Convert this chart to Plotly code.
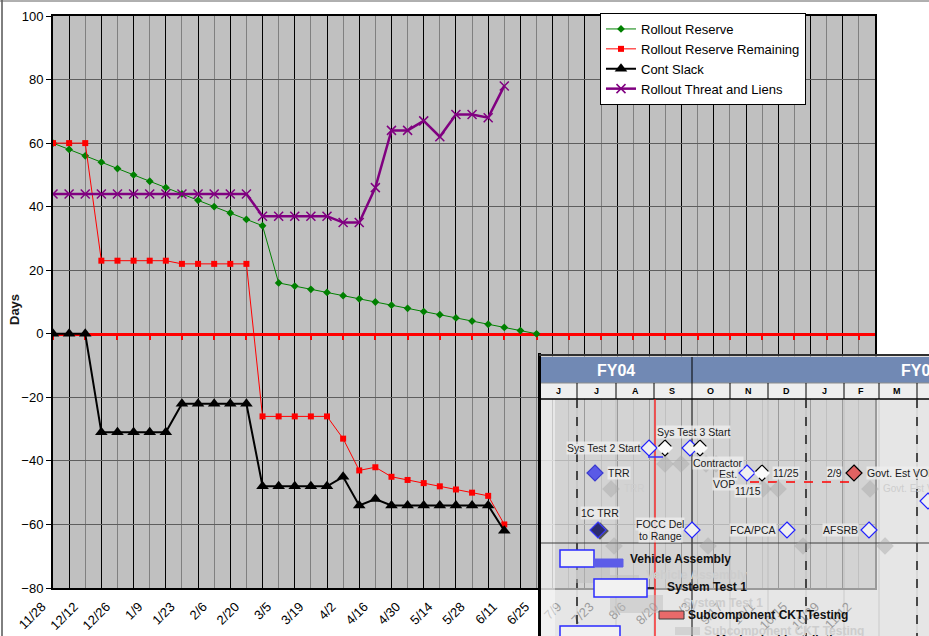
import plotly.graph_objects as go

# ---------------- data ----------------
week_labels = ["11/28", "12/5", "12/12", "12/19", "12/26", "1/2", "1/9", "1/16", "1/23", "1/30",
               "2/6", "2/13", "2/20", "2/27", "3/5", "3/12", "3/19", "3/26", "4/2", "4/9",
               "4/16", "4/23", "4/30", "5/7", "5/14", "5/21", "5/28", "6/4", "6/11", "6/18",
               "6/25", "7/2", "7/9", "7/16", "7/23", "7/30", "8/6", "8/13", "8/20", "8/27",
               "9/3", "9/10", "9/17", "9/24", "10/1", "10/8", "10/15", "10/22", "10/29", "11/5",
               "11/12", "11/19"]

rollout_reserve = [60, 58, 56, 54, 52, 50, 48, 46, 44, 42, 40, 38, 36, 34, 16, 15, 14, 13, 12, 11,
                   10, 9, 8, 7, 6, 5, 4, 3, 2, 1, 0]
reserve_remaining = [60, 60, 60, 23, 23, 23, 23, 23, 22, 22, 22, 22, 22, -26, -26, -26, -26, -26,
                     -33, -43, -42, -45, -46, -47, -48, -49, -50, -51, -60]
cont_slack = [0, 0, 0, -31, -31, -31, -31, -31, -22, -22, -22, -22, -22, -48, -48, -48, -48, -48,
              -45, -54, -52, -54, -54, -54, -54, -54, -54, -54, -62]
threat_liens = [44, 44, 44, 44, 44, 44, 44, 44, 44, 44, 44, 44, 44, 37, 37, 37, 37, 37,
                35, 35, 46, 64, 64, 67, 62, 69, 69, 68, 78]

# ---------------- figure geometry ----------------
W, H = 929, 636
PL, PR, PT, PB = 53, 875, 16, 588
FONT = "Arial, Liberation Sans, sans-serif"


def PX(px):
    return (px - PL) / (PR - PL)


def PY(py):
    return (PB - py) / (PB - PT)


n_weeks = len(week_labels)
fig = go.Figure()

fig.add_trace(go.Scatter(
    x=list(range(len(rollout_reserve))), y=rollout_reserve, name="Rollout Reserve",
    mode="lines+markers", line=dict(color="#008000", width=1),
    marker=dict(symbol="diamond", size=6, color="#008000")))
fig.add_trace(go.Scatter(
    x=list(range(len(reserve_remaining))), y=reserve_remaining, name="Rollout Reserve Remaining",
    mode="lines+markers", line=dict(color="#FF0000", width=1),
    marker=dict(symbol="square", size=6, color="#FF0000")))
fig.add_trace(go.Scatter(
    x=list(range(len(cont_slack))), y=cont_slack, name="Cont Slack",
    mode="lines+markers", line=dict(color="#000000", width=2),
    marker=dict(symbol="triangle-up", size=11, color="#000000")))
fig.add_trace(go.Scatter(
    x=list(range(len(threat_liens))), y=threat_liens, name="Rollout Threat and Liens",
    mode="lines+markers", line=dict(color="#800080", width=2.5),
    marker=dict(symbol="x-thin", size=9, color="#800080", line=dict(width=1.5, color="#800080"))))
# carrier for the red category axis drawn at y = 0
fig.add_trace(go.Scatter(x=[None], y=[None], xaxis="x2", yaxis="y", showlegend=False,
                         hoverinfo="skip"))

major = list(range(0, n_weeks, 2))
minor = list(range(1, n_weeks, 2))

fig.update_layout(
    width=W, height=H,
    margin=dict(l=PL, r=W - PR, t=PT, b=H - PB, autoexpand=False),
    paper_bgcolor="white", plot_bgcolor="#C0C0C0",
    font=dict(family=FONT, size=13, color="black"),
    xaxis=dict(range=[0, n_weeks - 1], tickmode="array", tickvals=major,
               ticktext=[week_labels[i] for i in major], tickangle=-45, ticks="",
               ticklabelshift=-11, ticklabelstandoff=4,
               showgrid=True, gridcolor="#808080", gridwidth=1,
               minor=dict(tickvals=minor, showgrid=True, gridcolor="#000000", gridwidth=1, ticks=""),
               showline=True, linecolor="black", linewidth=2, mirror=True, zeroline=False,
               tickfont=dict(size=13, family=FONT), automargin=False),
    xaxis2=dict(overlaying="x", anchor="free", position=80 / 180, range=[0, n_weeks - 1],
                tickmode="array", tickvals=major, ticks="outside", ticklen=4, tickwidth=1.5,
                tickcolor="#FF0000", showline=True, linecolor="#FF0000", linewidth=2.5,
                showticklabels=False, showgrid=False, zeroline=False, layer="below traces",
                side="bottom"),
    yaxis=dict(range=[-80, 100], tickmode="linear", tick0=-80, dtick=20, ticks="outside",
               ticklen=5, tickcolor="black", showgrid=True, gridcolor="#5E5E5E", gridwidth=1,
               showline=True, linecolor="black", linewidth=2, mirror=True, zeroline=False,
               tickfont=dict(size=13, family=FONT), automargin=False),
    legend=dict(x=PX(600), y=PY(13), xanchor="left", yanchor="top", bgcolor="white",
                bordercolor="black", borderwidth=1, font=dict(size=13, family=FONT),
                tracegroupgap=0, entrywidth=185, entrywidthmode="pixels"),
    showlegend=True,
)

shapes = []
annotations = []


def line(x0, y0, x1, y1, color, width=1, dash="solid"):
    shapes.append(dict(type="line", xref="paper", yref="paper", x0=PX(x0), y0=PY(y0),
                       x1=PX(x1), y1=PY(y1), line=dict(color=color, width=width, dash=dash),
                       layer="above"))


def rect(x0, y0, x1, y1, fill, lcolor=None, lwidth=0, opacity=1.0):
    shapes.append(dict(type="rect", xref="paper", yref="paper", x0=PX(x0), y0=PY(y0),
                       x1=PX(x1), y1=PY(y1), fillcolor=fill, opacity=opacity,
                       line=dict(color=lcolor or fill, width=lwidth), layer="above"))


def diamond(cx, cy, fill, lcolor, h=8, dash="solid", opacity=1.0, lwidth=1.2):
    path = (f"M {PX(cx)},{PY(cy - h)} L {PX(cx + h)},{PY(cy)} "
            f"L {PX(cx)},{PY(cy + h)} L {PX(cx - h)},{PY(cy)} Z")
    shapes.append(dict(type="path", xref="paper", yref="paper", path=path, fillcolor=fill,
                       opacity=opacity, line=dict(color=lcolor, width=lwidth, dash=dash),
                       layer="above"))


def text(x, y, s, size=11, color="#1A1A1A", anchor="left", bold=False, bg=None, angle=0):
    annotations.append(dict(xref="paper", yref="paper", x=PX(x), y=PY(y),
                            text=f"<b>{s}</b>" if bold else s, showarrow=False,
                            xanchor=anchor, yanchor="middle", textangle=angle,
                            font=dict(size=size, color=color, family=FONT),
                            bgcolor=bg, borderpad=0))


# chart frame
line(2, 0, 2, H, "#000000", 1)
line(0, 1, W, 1, "#606060", 1)
text(14, 310, "Days", size=13, bold=True, anchor="center", angle=-90)

# ---------------- embedded schedule picture (bottom right) ----------------
rect(540, 355, 940, 645, "rgb(219,219,219)", opacity=0.7)
rect(541, 399, 555, 645, "white", opacity=0.45)
rect(541, 357, 940, 383, "#7189B4")
rect(541, 383, 940, 399, "#EEEEEE")
line(541, 383, 940, 383, "#8C8C8C", 1)
line(541, 399, 940, 399, "#000000", 1.5)

months = ["J", "J", "A", "S", "O", "N", "D", "J", "F", "M"]
month_x = [558, 596, 635, 672, 710, 748, 786, 824, 861, 897]
month_sep = [577, 616, 654, 730, 768, 806, 844, 879, 917]
for xs in month_sep:
    line(xs, 383, xs, 399, "#000000", 1)
    line(xs, 399, xs, 645, "rgba(150,150,150,0.35)", 1)
for m, xm in zip(months, month_x):
    text(xm, 391, m, size=9, bold=True, anchor="center", color="#000000")

line(539.5, 353, 539.5, 645, "#000000", 3)
line(539, 355, 940, 355, "#303030", 2)
line(692, 357, 692, 645, "#000000", 1)
for xd in [577, 806, 917]:
    line(xd, 399, xd, 645, "#1A1A1A", 1.5, dash="dash")
line(541, 543, 940, 543, "#3C3C3C", 1)
line(655, 399, 655, 645, "#FF0000", 1.2)
line(750, 482, 850, 482, "#FF0000", 1.5, dash="dash")

# milestones: (x, y, style)
milestones = [
    (649, 448, "open"), (665, 448, "done"), (690, 448, "open"), (700, 448, "done"),
    (747, 473, "open"), (762, 473, "done"), (854, 473, "red"), (595, 473, "blue"),
    (598, 530, "navy"), (692, 530, "open"), (787, 530, "open"), (869, 530, "open"),
    (928, 501, "open"),
]
bars = [
    (560, 550, 594, 567, "open"), (594, 559, 623, 567, "blue"), (594, 579, 647, 597, "open"),
    (659, 611, 684, 619, "red"), (560, 626, 620, 645, "open"),
]
bar_labels = [
    (629, 559, "Vehicle Assembly"), (666, 587, "System Test 1"),
    (687, 615, "Subcomponent CKT Testing"), (715, 640, "Mechanical Installations"),
]
OFF = 16

# shadow copy
for (x0, y0, x1, y1, st) in bars:
    if x0 + OFF < 935:
        rect(x0 + OFF, y0 + OFF, x1 + OFF, y1 + OFF, "#BDBDBD", opacity=0.5)
for (cx, cy, st) in milestones:
    if cx + OFF < 935:
        diamond(cx + OFF, cy + OFF, "#A8A8A8", "#A8A8A8", opacity=0.45)

# main picture marks
line(648, 457, 663, 457, "#3030FF", 1.5)
line(627, 588, 657, 588, "#000000", 1.5, dash="dash")
for (x0, y0, x1, y1, st) in bars:
    if st == "open":
        rect(x0, y0, x1, y1, "#F2F2F2", "#2A2AFF", 1.5)
    elif st == "blue":
        rect(x0, y0, x1, y1, "#5C5CE8", "#5C5CE8", 1)
    else:
        rect(x0, y0, x1, y1, "#E86A6A", "#3A3A3A", 1)
for (cx, cy, st) in milestones:
    if st == "open":
        diamond(cx, cy, "#F0F0F0", "#2020FF")
    elif st == "done":
        diamond(cx, cy, "#FAFAFA", "#000000", dash="dash")
    elif st == "red":
        diamond(cx, cy, "#E06262", "#000000")
    elif st == "blue":
        diamond(cx, cy, "#5A5AE6", "#3A3AD0")
    else:
        diamond(cx + 2, cy + 1, "#555555", "#555555")
        diamond(cx, cy, "#2C2C6E", "#3A3AFF")

# shadow labels
for (x, y, s) in bar_labels:
    text(x + OFF, y + OFF, s, size=12, bold=True, color="#CDCDCD")
text(866 + OFF, 473 + OFF, "Govt. Est VOP", size=10, color="#CDCDCD")
text(607 + OFF, 473 + OFF, "TRR", size=10, color="#CDCDCD")

for (x, y, s) in bar_labels:
    text(x, y, s, size=12, bold=True, color="#111111")

LBG = "rgba(238,238,238,0.8)"
milestone_labels = [
    (641, 448, "Sys Test 2 Start", "right"), (693, 432, "Sys Test 3 Start", "center"),
    (692, 463, "Contractor", "left"), (738, 474, "Est.", "right"), (736, 484, "VOP", "right"),
    (748, 491, "11/15", "center"), (772, 473, "11/25", "left"), (843, 473, "2/9", "right"),
    (866, 473, "Govt. Est VOP", "left"), (607, 473, "TRR", "left"),
    (600, 513, "1C TRR", "center"), (660, 524, "FOCC Del", "center"),
    (660, 536, "to Range", "center"), (777, 530, "FCA/PCA", "right"),
    (859, 530, "AFSRB", "right"),
]
for (x, y, s, a) in milestone_labels:
    text(x, y, s, size=10.5, anchor=a, bg=LBG)

text(616, 370, "FY04", size=16, bold=True, color="white", anchor="center")
text(900, 370, "FY05", size=16, bold=True, color="white", anchor="left")

fig.update_layout(shapes=shapes, annotations=annotations)
fig.write_html("out.html")
